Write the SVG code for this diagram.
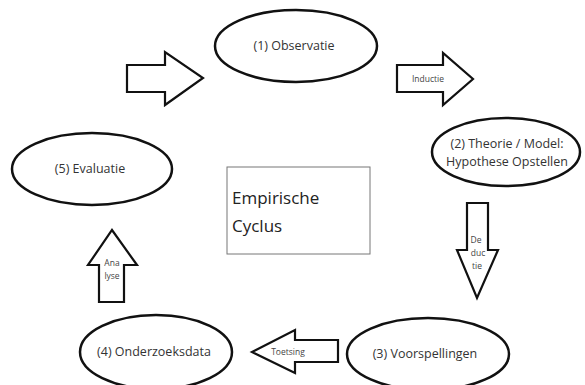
<svg xmlns="http://www.w3.org/2000/svg" width="585" height="385" viewBox="0 0 585 385">
<style>
.node{fill:#fff;stroke:#111;stroke-width:2.5}
.arr{fill:#fff;stroke:#111;stroke-width:2.2;stroke-linejoin:miter}
.t{font-family:"Open Sans","Liberation Sans",sans-serif;font-size:12.5px;fill:#333;text-anchor:middle}
.s{font-family:"Open Sans","Liberation Sans",sans-serif;font-size:8.5px;fill:#444;text-anchor:middle}
.big{font-family:"Open Sans","Liberation Sans",sans-serif;font-size:17px;fill:#222}
</style>
<rect width="585" height="385" fill="#fff"/>
<g id="connectors">
<polygon class="arr" points="127,65 165,65 165,52 203,78 165,105 165,92 127,92"/>
<g id="inductie">
<polygon class="arr" points="397,65 443,65 443,53 473,79 443,105 443,92 397,92"/>
<text class="s" x="428" y="82">Inductie</text>
</g>
<g id="deductie">
<polygon class="arr" points="467,203 488,203 488,250 498,250 477,298 457,250 467,250"/>
<text class="s" x="476" y="243">De</text>
<text class="s" x="478" y="256">duc</text>
<text class="s" x="477" y="269">tie</text>
</g>
<g id="toetsing">
<polygon class="arr" points="338,340 295,340 295,330 252,352 295,373 295,362 338,362"/>
<text class="s" x="288" y="355">Toetsing</text>
</g>
<g id="analyse">
<polygon class="arr" points="99,302 124,302 124,265 137,265 112,230 88,265 99,265"/>
<text class="s" x="112" y="266">Ana</text>
<text class="s" x="112" y="279">lyse</text>
</g>
</g>
<g id="n1">
<ellipse class="node" cx="296" cy="46" rx="81" ry="36"/>
<text class="t" x="294" y="50">(1) Observatie</text>
</g>
<g id="n2">
<ellipse class="node" cx="506" cy="152" rx="74" ry="34"/>
<text class="t" x="507" y="148">(2) Theorie / Model:</text>
<text class="t" x="507" y="166">Hypothese Opstellen</text>
</g>
<g id="n3">
<ellipse class="node" cx="428" cy="354" rx="81" ry="36"/>
<text class="t" x="425" y="358">(3) Voorspellingen</text>
</g>
<g id="n4">
<ellipse class="node" cx="156" cy="352" rx="76" ry="37"/>
<text class="t" x="154" y="356">(4) Onderzoeksdata</text>
</g>
<g id="n5">
<ellipse class="node" cx="92" cy="169" rx="80" ry="36"/>
<text class="t" x="90" y="173">(5) Evaluatie</text>
</g>
<g id="title">
<rect x="227" y="167" width="143" height="87" fill="#fff" stroke="#777" stroke-width="1"/>
<text class="big" x="232" y="204">Empirische</text>
<text class="big" x="232" y="232">Cyclus</text>
</g>
</svg>
